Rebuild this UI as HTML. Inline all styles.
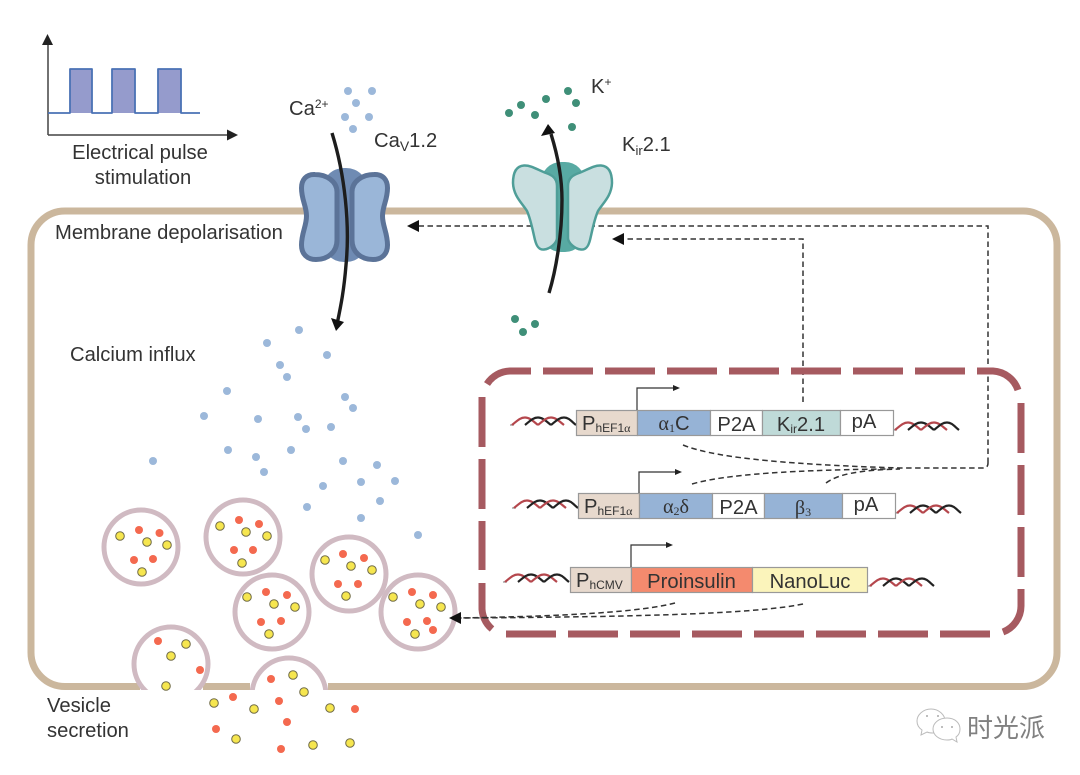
<!DOCTYPE html>
<html><head><meta charset="utf-8"><style>
html,body{margin:0;padding:0;background:#fff}
svg{display:block;filter:blur(.35px)}
text{font-family:"Liberation Sans",sans-serif;fill:#333;font-size:20.200px}
.g{font-family:"Liberation Serif",serif}
.c{fill:#9cb8da}.k{fill:#3f8f78}
.r{fill:#f4694f}.y{fill:#f6e64f;stroke:#6f6a45;stroke-width:1}
.v{fill:#fff;stroke:#d0bac2;stroke-width:5}
.b{stroke:#999;stroke-width:1.2}
.d{fill:none;stroke:#333;stroke-width:1.5;stroke-dasharray:5.500 3.500}
.p{fill:none;stroke:#333;stroke-width:1.2}
.x{fill:none;stroke:#a65a60;stroke-width:7}
.dd{stroke-dasharray:50 12}
</style></head><body>
<svg width="1080" height="775" viewBox="0 0 1080 775" xmlns="http://www.w3.org/2000/svg">
<defs>
<g id="h" fill="none" stroke-width="2.200">
<path d="M0 4H4" stroke="#777" stroke-width="1"/>
<path d="M2 4C7 0 10 -3.500 15 -3.500C20 -3.500 24 1 28 4" stroke="#b5474d"/>
<path d="M15 4C20 0 23 -3.500 28 -3.500C33 -3.500 37 1 41 4" stroke="#222"/>
<path d="M28 4C33 0 36 -3.500 41 -3.500C46 -3.500 50 1 54 4" stroke="#b5474d"/>
<path d="M41 4C46 0 49 -3.500 54 -3.500C59 -3.500 62 1 66 4" stroke="#222"/>
</g>
<clipPath id="cut"><rect x="0" y="0" width="1080" height="690"/></clipPath>
</defs>

<!-- pulse plot -->
<path d="M48 135V42M48 135H230" fill="none" stroke="#444" stroke-width="1.500"/>
<path d="M47.500 34L42 45H53ZM238 135L227 129.500V140.500Z" fill="#222"/>
<path d="M70 113V69H92V113ZM112 113V69H135V113ZM158 113V69H181V113Z" fill="#959bcc"/>
<path d="M48 113H70V69H92V113H112V69H135V113H158V69H181V113H200" fill="none" stroke="#4a72b5" stroke-width="1.800" stroke-linejoin="round"/>
<text x="140" y="159" text-anchor="middle">Electrical pulse</text>
<text x="143" y="184" text-anchor="middle">stimulation</text>

<!-- membrane -->
<rect x="31" y="211" width="1026" height="475.500" rx="34" fill="none" stroke="#cbb79d" stroke-width="7"/>
<rect x="140" y="681" width="63" height="10" fill="#fff"/>
<rect x="250" y="681" width="78" height="10" fill="#fff"/>

<!-- dashed connectors behind channels -->
<path class="d" d="M803 402V239H622"/>
<path class="d" d="M988 463V226H417"/>
<path d="M612 239L624 233V245ZM407 226L419 220V232Z" fill="#111"/>

<!-- CaV channel -->
<rect x="322" y="168" width="46" height="94" rx="22" fill="#6f8bb3"/>
<path d="M315 174.500C306 174 301.500 180 301.500 188C301.500 200 306.500 206 306.500 216C306.500 226 301.500 233 301.500 245C301.500 254 307 259.500 316 259.500C328 259.500 337 252 337 240V192C337 181 326 174.500 315 174.500Z" fill="#9ab6d8" stroke="#5b7398" stroke-width="5"/>
<path d="M374 174.500C383 174 387.500 180 387.500 188C387.500 200 382.500 206 382.500 216C382.500 226 387.500 233 387.500 245C387.500 254 382 259.500 373 259.500C361 259.500 352 252 352 240V192C352 181 363 174.500 374 174.500Z" fill="#9ab6d8" stroke="#5b7398" stroke-width="5"/>
<path d="M332 133C345 175 350 225 346 265C344 290 341 305 337.500 322" fill="none" stroke="#1d1d1d" stroke-width="3.400"/>
<path d="M336 331L331 318L344 322Z" fill="#111"/>

<!-- Kir channel -->
<rect x="541" y="162" width="44" height="90" rx="20" fill="#58aaa3"/>
<path d="M524 165.500C516 166 513 173 513 183C513.500 196 522 203 527 211C531 220 533 232 535 240C537 248 540 250 544 249.500C550 249 557 243 557 238V186C557 178 552 175 546 173C538 170 531 165 524 165.500Z" fill="#c9dfe0" stroke="#4f9e98" stroke-width="2.500"/>
<path d="M601 165.500C609 166 612 173 612 183C611.500 196 603 203 598 211C594 220 592 232 590 240C588 248 585 250 581 249.500C575 249 568 243 568 238V186C568 178 573 175 579 173C587 170 594 165 601 165.500Z" fill="#c9dfe0" stroke="#4f9e98" stroke-width="2.500"/>
<path d="M549 293C556 270 562 235 562 200C562 175 556 150 551 134" fill="none" stroke="#1d1d1d" stroke-width="3.400"/>
<path d="M548 124L541 136L555 133Z" fill="#111"/>

<text x="289" y="115">Ca<tspan font-size="12" dy="-7">2+</tspan></text>
<text x="374" y="147">Ca<tspan font-size="14" dy="4">V</tspan><tspan dy="-4">1.2</tspan></text>
<text x="591" y="93">K<tspan font-size="12" dy="-7">+</tspan></text>
<text x="622" y="151">K<tspan font-size="13" dy="4">ir</tspan><tspan dy="-4">2.1</tspan></text>
<text x="55" y="239">Membrane depolarisation</text>
<text x="70" y="361">Calcium influx</text>
<text x="47" y="712">Vesicle</text>
<text x="47" y="737">secretion</text>

<!-- ions -->
<g class="c">
<circle cx="348" cy="91" r="4"/><circle cx="372" cy="91" r="4"/><circle cx="356" cy="103" r="4"/><circle cx="345" cy="117" r="4"/><circle cx="369" cy="117" r="4"/><circle cx="353" cy="129" r="4"/>
<circle cx="299" cy="330" r="4"/><circle cx="267" cy="343" r="4"/><circle cx="327" cy="355" r="4"/><circle cx="280" cy="365" r="4"/><circle cx="287" cy="377" r="4"/><circle cx="227" cy="391" r="4"/><circle cx="345" cy="397" r="4"/><circle cx="353" cy="408" r="4"/><circle cx="204" cy="416" r="4"/><circle cx="258" cy="419" r="4"/><circle cx="298" cy="417" r="4"/><circle cx="306" cy="429" r="4"/><circle cx="331" cy="427" r="4"/><circle cx="228" cy="450" r="4"/><circle cx="291" cy="450" r="4"/><circle cx="256" cy="457" r="4"/><circle cx="264" cy="472" r="4"/><circle cx="343" cy="461" r="4"/><circle cx="377" cy="465" r="4"/><circle cx="153" cy="461" r="4"/><circle cx="361" cy="482" r="4"/><circle cx="395" cy="481" r="4"/><circle cx="323" cy="486" r="4"/><circle cx="307" cy="507" r="4"/><circle cx="380" cy="501" r="4"/><circle cx="361" cy="518" r="4"/><circle cx="418" cy="535" r="4"/>
</g>
<g class="k">
<circle cx="509" cy="113" r="4"/><circle cx="521" cy="105" r="4"/><circle cx="546" cy="99" r="4"/><circle cx="568" cy="91" r="4"/><circle cx="576" cy="103" r="4"/><circle cx="535" cy="115" r="4"/><circle cx="572" cy="127" r="4"/>
<circle cx="515" cy="319" r="4"/><circle cx="535" cy="324" r="4"/><circle cx="523" cy="332" r="4"/>
</g>

<!-- vesicles -->
<circle class="v" cx="141" cy="547" r="37"/>
<circle class="v" cx="243" cy="537" r="37"/>
<circle class="v" cx="272" cy="612" r="37"/>
<circle class="v" cx="349" cy="574" r="37"/>
<circle class="v" cx="418" cy="612" r="37"/>
<g clip-path="url(#cut)">
<circle class="v" cx="171" cy="664" r="37"/>
<circle class="v" cx="289" cy="695" r="37"/>
</g>

<g class="r">
<circle cx="139" cy="530" r="4"/><circle cx="159.500" cy="533" r="4"/><circle cx="134" cy="560" r="4"/><circle cx="153" cy="559" r="4"/>
<circle cx="239" cy="520" r="4"/><circle cx="259" cy="524" r="4"/><circle cx="234" cy="550" r="4"/><circle cx="253" cy="550" r="4"/>
<circle cx="266" cy="592" r="4"/><circle cx="287" cy="595" r="4"/><circle cx="261" cy="622" r="4"/><circle cx="281" cy="621" r="4"/>
<circle cx="343" cy="554" r="4"/><circle cx="364" cy="558" r="4"/><circle cx="338" cy="584" r="4"/><circle cx="358" cy="584" r="4"/>
<circle cx="412" cy="592" r="4"/><circle cx="433" cy="595" r="4"/><circle cx="407" cy="622" r="4"/><circle cx="427" cy="621" r="4"/><circle cx="433" cy="630" r="4"/>
<circle cx="158" cy="641" r="4"/><circle cx="200" cy="670" r="4"/>
<circle cx="271" cy="679" r="4"/><circle cx="279" cy="701" r="4"/><circle cx="287" cy="722" r="4"/><circle cx="233" cy="697" r="4"/><circle cx="355" cy="709" r="4"/><circle cx="216" cy="729" r="4"/><circle cx="281" cy="749" r="4"/>
</g>
<g class="y">
<circle cx="120" cy="536" r="4.300"/><circle cx="147" cy="542" r="4.300"/><circle cx="167" cy="545" r="4.300"/><circle cx="142" cy="572" r="4.300"/>
<circle cx="220" cy="526" r="4.300"/><circle cx="246" cy="532" r="4.300"/><circle cx="267" cy="536" r="4.300"/><circle cx="242" cy="563" r="4.300"/>
<circle cx="247" cy="597" r="4.300"/><circle cx="274" cy="604" r="4.300"/><circle cx="295" cy="607" r="4.300"/><circle cx="269" cy="634" r="4.300"/>
<circle cx="325" cy="560" r="4.300"/><circle cx="351" cy="566" r="4.300"/><circle cx="372" cy="570" r="4.300"/><circle cx="346" cy="596" r="4.300"/>
<circle cx="393" cy="597" r="4.300"/><circle cx="420" cy="604" r="4.300"/><circle cx="441" cy="607" r="4.300"/><circle cx="415" cy="634" r="4.300"/>
<circle cx="186" cy="644" r="4.300"/><circle cx="171" cy="656" r="4.300"/><circle cx="166" cy="686" r="4.300"/>
<circle cx="293" cy="675" r="4.300"/><circle cx="304" cy="692" r="4.300"/><circle cx="254" cy="709" r="4.300"/><circle cx="214" cy="703" r="4.300"/><circle cx="330" cy="708" r="4.300"/><circle cx="236" cy="739" r="4.300"/><circle cx="313" cy="745" r="4.300"/><circle cx="350" cy="743" r="4.300"/>
</g>

<!-- dashed red box -->
<path class="x" d="M487 384A28 28 0 0 1 510 371H531"/>
<path class="x dd" d="M543 371H978"/>
<path class="x" d="M978 371H993A28 28 0 0 1 1018 390"/>
<path class="x dd" d="M1021 403V577"/>
<path class="x" d="M1021 589V606A28 28 0 0 1 1003 632"/>
<path class="x dd" d="M506 634H991"/>
<path class="x" d="M482 583V606A28 28 0 0 0 492 629"/>
<path class="x dd" d="M482 397V570"/>

<!-- curved connectors -->
<path class="d" d="M683 445C710 456 770 464 900 468H983Q988 468 988 463"/>
<path class="d" d="M692 484C715 477 770 470 890 469"/>
<path class="d" d="M826 483C838 474 860 470 900 469"/>
<path class="d" d="M675 603C640 612 570 616 460 618"/>
<path class="d" d="M803 604C750 615 610 617 460 618"/>
<path d="M449 618L461 612V624Z" fill="#111"/>

<!-- row 1 -->
<use href="#h" x="510" y="421"/><use href="#h" x="893" y="426"/>
<rect class="b" x="576.500" y="410.500" width="61" height="25" fill="#e7d9cd"/>
<rect class="b" x="637.500" y="410.500" width="73" height="25" fill="#96b3d6"/>
<rect class="b" x="710.500" y="410.500" width="52" height="25" fill="#fff"/>
<rect class="b" x="762.500" y="410.500" width="78" height="25" fill="#bfdad8"/>
<rect class="b" x="840.500" y="410.500" width="53" height="25" fill="#fff"/>
<text x="582" y="430">P<tspan font-size="12" dy="2">hEF1</tspan><tspan class="g" font-size="12">α</tspan></text>
<text x="674" y="430" text-anchor="middle"><tspan class="g">α</tspan><tspan class="g" font-size="12" dy="2">1</tspan><tspan dy="-2">C</tspan></text>
<text x="736.500" y="431" text-anchor="middle">P2A</text>
<text x="801" y="431" text-anchor="middle">K<tspan font-size="12" dy="2">ir</tspan><tspan dy="-2">2.1</tspan></text>
<text x="864" y="428" text-anchor="middle">pA</text>
<path class="p" d="M637 410V388H674"/><path d="M680 388L673 385V391Z" fill="#222"/>

<!-- row 2 -->
<use href="#h" x="512" y="504"/><use href="#h" x="895" y="509"/>
<rect class="b" x="578.500" y="493.500" width="61" height="25" fill="#e7d9cd"/>
<rect class="b" x="639.500" y="493.500" width="73" height="25" fill="#96b3d6"/>
<rect class="b" x="712.500" y="493.500" width="52" height="25" fill="#fff"/>
<rect class="b" x="764.500" y="493.500" width="78" height="25" fill="#96b3d6"/>
<rect class="b" x="842.500" y="493.500" width="53" height="25" fill="#fff"/>
<text x="584" y="513">P<tspan font-size="12" dy="2">hEF1</tspan><tspan class="g" font-size="12">α</tspan></text>
<text x="676" y="513" text-anchor="middle" style="font-family:'Liberation Serif',serif">α<tspan font-size="12" dy="2">2</tspan><tspan dy="-2">δ</tspan></text>
<text x="738.500" y="514" text-anchor="middle">P2A</text>
<text x="803" y="514" text-anchor="middle" style="font-family:'Liberation Serif',serif">β<tspan font-size="12" dy="2">3</tspan></text>
<text x="866" y="511" text-anchor="middle">pA</text>
<path class="p" d="M639 493V472H676"/><path d="M682 472L675 469V475Z" fill="#222"/>

<!-- row 3 -->
<use href="#h" x="503" y="578"/><use href="#h" x="868" y="582"/>
<rect class="b" x="570.500" y="567.500" width="61" height="25" fill="#e7d9cd"/>
<rect class="b" x="631.500" y="567.500" width="121" height="25" fill="#f48a6e"/>
<rect class="b" x="752.500" y="567.500" width="115" height="25" fill="#fbf4bb"/>
<text x="576" y="587">P<tspan font-size="12" dy="2">hCMV</tspan></text>
<text x="691.500" y="588" text-anchor="middle">Proinsulin</text>
<text x="810" y="588" text-anchor="middle">NanoLuc</text>
<path class="p" d="M631 567V545H667"/><path d="M673 545L666 542V548Z" fill="#222"/>

<!-- watermark -->
<g fill="#fff" stroke="#bbb" stroke-width="1">
<path d="M931 709C923 709 917 715 917 721C917 725 919 728 922 730L921 735L927 732C929 733 931 733 933 733C941 733 945 727 945 721C945 715 939 709 931 709Z"/>
<path d="M947 718C939 718 933 723 933 729C933 735 939 740 947 740C949 740 951 740 952 739L957 742L956 737C959 735 960 732 960 729C960 723 955 718 947 718Z"/>
</g>
<g fill="#aaa"><circle cx="927" cy="716" r="1"/><circle cx="938" cy="716" r="1"/><circle cx="942" cy="727" r="1"/><circle cx="952" cy="727" r="1"/></g>
<text x="967" y="737" style="font-family:'Liberation Sans','Noto Sans CJK SC',sans-serif;font-size:26px;fill:#808080">时光派</text>
</svg>
</body></html>
